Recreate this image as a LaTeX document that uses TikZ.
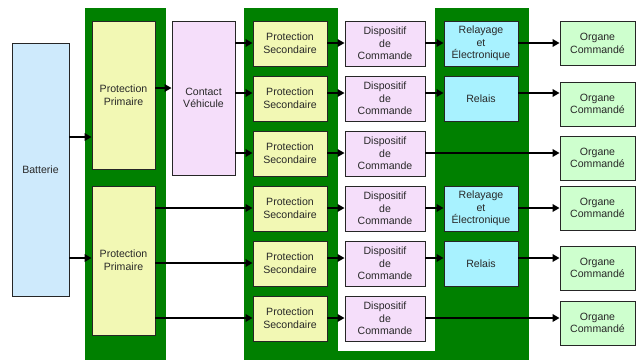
\documentclass[tikz,border=0pt]{standalone}
\usepackage{fontspec}
\setmainfont{Liberation Sans}
\usetikzlibrary{arrows.meta}
\definecolor{panelgreen}{RGB}{0,128,0}
\definecolor{cbat}{RGB}{206,234,252}
\definecolor{cprot}{RGB}{242,248,180}
\definecolor{cdisp}{RGB}{245,222,250}
\definecolor{crel}{RGB}{168,242,255}
\definecolor{corg}{RGB}{206,255,206}
\definecolor{ctext}{RGB}{40,40,40}
\begin{document}
\begin{tikzpicture}[x=1bp,y=-1bp,
  box/.style={draw=black!85, line width=0.9bp, inner sep=0pt, align=center,
    text=ctext, font=\fontsize{10.6}{12.7}\selectfont},
  arr/.style={line width=2.5bp, draw=black, -{Triangle[length=7bp,width=7.5bp]}},
  psbox/.style={box, fill=cprot, minimum width=74bp, minimum height=45bp},
  dcbox/.style={box, fill=cdisp, minimum width=80bp, minimum height=45bp},
  relbox/.style={box, fill=crel, minimum width=74bp, minimum height=45bp},
  orgbox/.style={box, fill=corg, minimum width=75bp, minimum height=44bp}]
\useasboundingbox (0,0) rectangle (637,361);
% panels
\fill[panelgreen] (85,8) rectangle (166,360);
\fill[panelgreen] (244,8) rectangle (529,360);
\fill[white] (338,0) rectangle (435,351);
% nodes
\node[box, fill=cbat, minimum width=57bp, minimum height=253bp] (bat) at (40.5,169.5) {Batterie};
\node[box, fill=cprot, minimum width=63bp, minimum height=148bp] (pp1) at (123.5,95) {Protection\\Primaire};
\node[box, fill=cprot, minimum width=63bp, minimum height=149bp] (pp2) at (123.5,260.5) {Protection\\Primaire};
\node[box, fill=cdisp, minimum width=63bp, minimum height=154bp] (cv) at (203.5,98) {Contact\\Véhicule};
\foreach \i/\y in {1/43.5,2/98.5,3/153.5,4/208.5,5/263.5,6/318.5}{
  \node[psbox] (ps\i) at (290,\y) {Protection\\Secondaire};
  \node[dcbox] (dc\i) at (385,\y) {Dispositif\\de\\Commande};
}
\node[relbox] (rel1) at (481,43.5) {Relayage\\et\\Électronique};
\node[relbox] (rel2) at (481,98.5) {Relais};
\node[relbox] (rel4) at (481,208.5) {Relayage\\et\\Électronique};
\node[relbox] (rel5) at (481,263.5) {Relais};
\foreach \i/\y in {1/43.5,2/104,3/158,4/208,5/268,6/323}{
  \node[orgbox] (org\i) at (597.5,\y) {Organe\\Commandé};
}
% arrows
\draw[arr] (bat.east |- 0,137) -- (pp1.west |- 0,137);
\draw[arr] (bat.east |- 0,258) -- (pp2.west |- 0,258);
\draw[arr] (pp1.east |- 0,88) -- (cv.west |- 0,88);
\draw[arr] (cv.east |- 0,43) -- (ps1.west |- 0,43);
\draw[arr] (cv.east |- 0,93) -- (ps2.west |- 0,93);
\draw[arr] (cv.east |- 0,153) -- (ps3.west |- 0,153);
\draw[arr] (pp2.east |- 0,208) -- (ps4.west |- 0,208);
\draw[arr] (pp2.east |- 0,263) -- (ps5.west |- 0,263);
\draw[arr] (pp2.east |- 0,318) -- (ps6.west |- 0,318);
\foreach \i/\y in {1/43,2/93,3/153,4/208,5/258,6/318}{
  \draw[arr] (ps\i.east |- 0,\y) -- (dc\i.west |- 0,\y);
}
\draw[arr] (dc1.east |- 0,43) -- (rel1.west |- 0,43);
\draw[arr] (dc2.east |- 0,93) -- (rel2.west |- 0,93);
\draw[arr] (dc3.east |- 0,153) -- (org3.west |- 0,153);
\draw[arr] (dc4.east |- 0,208) -- (rel4.west |- 0,208);
\draw[arr] (dc5.east |- 0,258) -- (rel5.west |- 0,258);
\draw[arr] (dc6.east |- 0,318) -- (org6.west |- 0,318);
\draw[arr] (rel1.east |- 0,43) -- (org1.west |- 0,43);
\draw[arr] (rel2.east |- 0,93) -- (org2.west |- 0,93);
\draw[arr] (rel4.east |- 0,208) -- (org4.west |- 0,208);
\draw[arr] (rel5.east |- 0,258) -- (org5.west |- 0,258);
\end{tikzpicture}
\end{document}
